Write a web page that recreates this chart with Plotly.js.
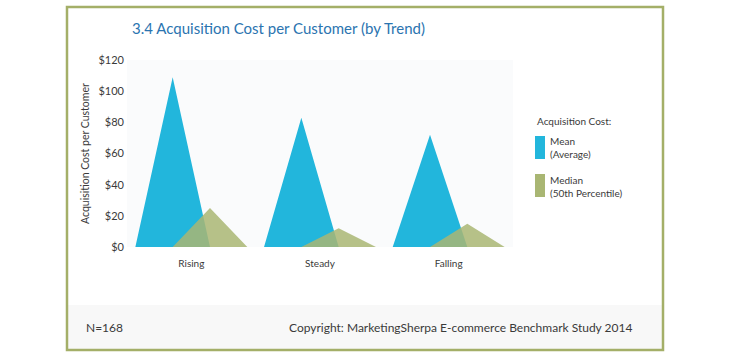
<!DOCTYPE html>
<html><head><meta charset="utf-8">
<script src="https://cdn.plot.ly/plotly-3.0.1.min.js"></script>
<style>html,body{margin:0;padding:0;background:#fff;}#chart{width:730px;height:356px;}</style>
</head><body><div id="chart"></div>
<script>
const categories = ["Rising", "Steady", "Falling"];
const meanValues = [109, 83, 72];
const medianValues = [25, 12, 15];
const seriesNames = ["Mean<br>(Average)", "Median<br>(50th Percentile)"];
const yTickVals = [0, 20, 40, 60, 80, 100, 120];
const yTickText = ["$0", "$20", "$40", "$60", "$80", "$100", "$120"];
const gridVals = [40, 80, 120];
const titleText = "3.4 Acquisition Cost per Customer (by Trend)";
const yTitle = "Acquisition Cost per Customer";
const legendTitle = "Acquisition Cost:";
const footerLeft = "N=168";
const footerRight = "Copyright: MarketingSherpa E-commerce Benchmark Study 2014";

const W = 730, H = 356;
const M = {l: 127, r: 217, t: 60, b: 109};
const pw = W - M.l - M.r, ph = H - M.t - M.b;
const px = v => (v - M.l) / pw;
const py = v => (H - M.b - v) / ph;

const halfW = 0.29, off = 0.145;
function triTrace(vals, shift, color, opacity, name) {
  const x = [], y = [];
  vals.forEach((v, i) => {
    const c = i + shift;
    x.push(c - halfW, c, c + halfW, c - halfW, null);
    y.push(0, v, 0, 0, null);
  });
  return {x, y, type: 'scatter', mode: 'lines', fill: 'toself', fillcolor: color,
    line: {width: 0, color: color}, opacity: opacity, name: name, hoverinfo: 'skip', showlegend: false};
}
const blue = '#22b6dc', olive = '#a9b673';
const data = [
  triTrace(meanValues, -off, blue, 1, 'Mean'),
  triTrace(medianValues, off, olive, 0.85, 'Median')
];

const font = "Lato, 'Open Sans', sans-serif";
const txt = '#3a3a3a';
const shapes = [
  {type: 'rect', xref: 'paper', yref: 'paper', x0: px(68), x1: px(662), y0: py(305), y1: py(349), fillcolor: '#f8f8f8', line: {width: 0}, layer: 'below'},
  {type: 'rect', xref: 'paper', yref: 'paper', x0: px(67), x1: px(663), y0: py(7), y1: py(350), fillcolor: 'rgba(0,0,0,0)', line: {width: 2.5, color: '#a4af68'}},
  {type: 'rect', xref: 'paper', yref: 'paper', x0: px(535), x1: px(545), y0: py(136), y1: py(159), fillcolor: blue, line: {width: 0}},
  {type: 'rect', xref: 'paper', yref: 'paper', x0: px(535), x1: px(545), y0: py(174), y1: py(197), fillcolor: olive, line: {width: 0}}
];
const annotations = [
  {text: legendTitle, xref: 'paper', yref: 'paper', x: px(535), y: py(121), xanchor: 'left', yanchor: 'middle', showarrow: false, font: {family: font, size: 10, color: txt}},
  {text: seriesNames[0], xref: 'paper', yref: 'paper', x: px(548), y: py(133), xanchor: 'left', yanchor: 'top', align: 'left', showarrow: false, font: {family: font, size: 10, color: txt}},
  {text: seriesNames[1], xref: 'paper', yref: 'paper', x: px(548), y: py(172), xanchor: 'left', yanchor: 'top', align: 'left', showarrow: false, font: {family: font, size: 10, color: txt}},
  {text: footerLeft, xref: 'paper', yref: 'paper', x: px(84), y: py(327), xanchor: 'left', yanchor: 'middle', showarrow: false, font: {family: font, size: 12, color: txt}},
  {text: footerRight, xref: 'paper', yref: 'paper', x: px(634), y: py(327), xanchor: 'right', yanchor: 'middle', showarrow: false, font: {family: font, size: 12, color: txt}},
  {text: titleText, xref: 'paper', yref: 'paper', x: px(130), y: py(28), xanchor: 'left', yanchor: 'middle', showarrow: false, font: {family: font, size: 15, color: '#2b74b0'}},
  {text: yTitle, xref: 'paper', yref: 'paper', x: px(85), y: py(154), xanchor: 'center', yanchor: 'middle', textangle: -90, showarrow: false, font: {family: font, size: 10.5, color: txt}}
];

const layout = {
  width: W, height: H, margin: M,
  paper_bgcolor: '#fff', plot_bgcolor: '#fafbfc',
  showlegend: false,
  font: {family: font, size: 10, color: txt},
  xaxis: {range: [-0.5, 2.5], tickvals: [0, 1, 2], ticktext: categories, showgrid: false, zeroline: false, showline: false, ticks: '', fixedrange: true, tickfont: {size: 10}, ticklabelstandoff: 9},
  yaxis: {range: [0, 120], tickvals: yTickVals, ticktext: yTickText, showgrid: false, zeroline: false, showline: false, ticks: '', tickfont: {size: 11}, ticklabelstandoff: 2},
  yaxis2: {range: [0, 120], overlaying: 'y', tickvals: gridVals, showticklabels: false, showgrid: true, gridcolor: '#e4e4e4', gridwidth: 1.5, zeroline: false, ticks: ''},
  shapes, annotations
};
Plotly.newPlot('chart', data, layout, {displayModeBar: false, staticPlot: true});
</script></body></html>
